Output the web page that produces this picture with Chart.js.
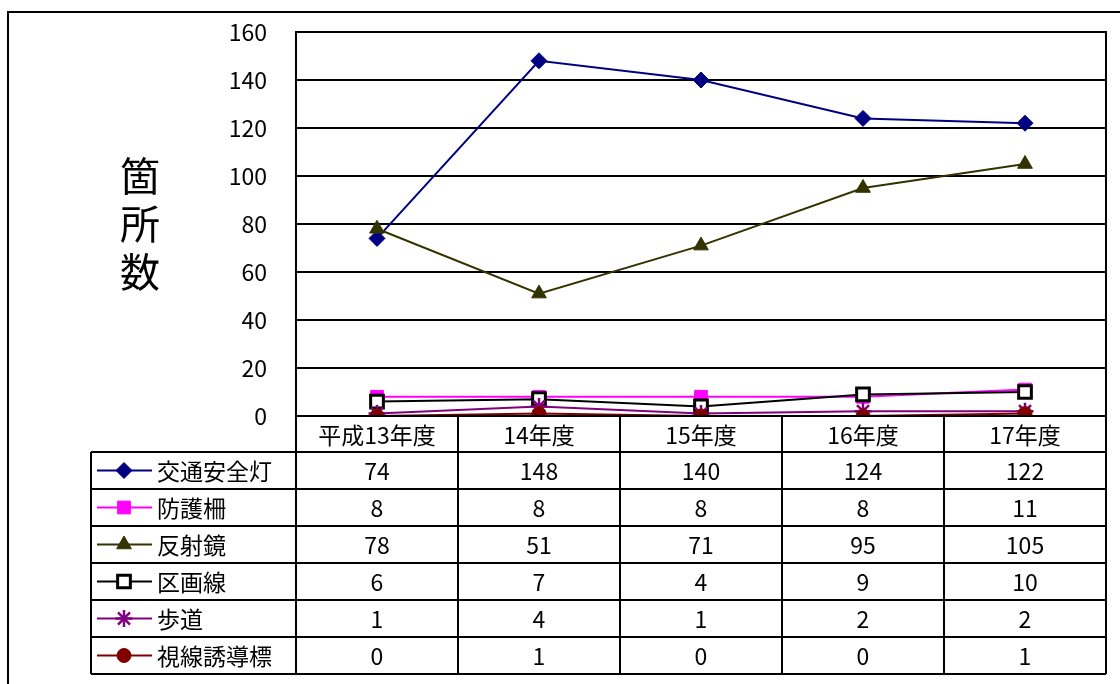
<!DOCTYPE html>
<html>
<head>
<meta charset="utf-8">
<script src="https://cdn.jsdelivr.net/npm/chart.js@4/dist/chart.umd.min.js"></script>
<style>
html,body{margin:0;padding:0;background:#fff;}
#wrap{width:1120px;height:684px;position:relative;}
</style>
</head>
<body>
<div id="wrap"><canvas id="c" width="1120" height="684"></canvas></div>
<script>
const categories = ['平成13年度', '14年度', '15年度', '16年度', '17年度'];
const yTicks = [0, 20, 40, 60, 80, 100, 120, 140, 160];
const axisTitle = '箇所数';
const seriesNames = ['交通安全灯', '防護柵', '反射鏡', '区画線', '歩道', '視線誘導標'];
const koutsuuAnzentou = [74, 148, 140, 124, 122];
const bougosaku = [8, 8, 8, 8, 11];
const hanshakyou = [78, 51, 71, 95, 105];
const kukakusen = [6, 7, 4, 9, 10];
const hodou = [1, 4, 1, 2, 2];
const shisenYuudouhyou = [0, 1, 0, 0, 1];

const seriesValues = [koutsuuAnzentou, bougosaku, hanshakyou, kukakusen, hodou, shisenYuudouhyou];
const styles = [
  {color:'#000080', fill:'#000080', pointStyle:'rectRot', r:8},
  {color:'#FF00FF', fill:'#FF00FF', pointStyle:'rect', r:9},
  {color:'#333300', fill:'#333300', pointStyle:'triangle', r:8.5},
  {color:'#000000', fill:'#FFFFFF', pointStyle:'rect', r:9},
  {color:'#800080', fill:'#800080', pointStyle:'star', r:8.5},
  {color:'#800000', fill:'#800000', pointStyle:'circle', r:7}
];

const FONT = '"Noto Sans CJK JP", "Liberation Sans", sans-serif';
const PLOT_TOP = 32, PLOT_BOTTOM = 416, PLOT_LEFT = 296, PLOT_RIGHT = 1106;
const HEADER_H = 36, ROW_H = 37, LEGEND_LEFT = 91;
const TXT = 23;

const datasets = seriesNames.map((name, i) => ({
  label: name,
  data: seriesValues[i],
  borderColor: styles[i].color,
  backgroundColor: styles[i].fill,
  pointBackgroundColor: styles[i].fill,
  pointBorderColor: styles[i].color,
  pointBorderWidth: styles[i].pointStyle === 'star' ? 2.5 : (i === 3 ? 3 : 1),
  pointStyle: styles[i].pointStyle,
  pointRadius: styles[i].r,
  borderWidth: 2,
  tension: 0,
  order: -i
}));

function drawMarker(ctx, i, x, y) {
  const st = styles[i];
  ctx.save();
  ctx.fillStyle = st.fill;
  ctx.strokeStyle = st.color;
  ctx.lineWidth = datasets[i].pointBorderWidth;
  Chart.helpers.drawPoint(ctx, {pointStyle: st.pointStyle, rotation: 0, radius: st.r, borderWidth: ctx.lineWidth}, x, y);
  ctx.restore();
}

const tablePlugin = {
  id: 'tablePlugin',
  afterDraw(chart) {
    const ctx = chart.ctx;
    const area = chart.chartArea;
    const xs = chart.scales.x;
    const n = categories.length;
    const colW = (area.right - area.left) / n;
    ctx.save();
    ctx.strokeStyle = '#000';
    ctx.lineWidth = 2;
    ctx.beginPath();
    ctx.moveTo(1121, 12); ctx.lineTo(8, 12); ctx.lineTo(8, 690);
    ctx.stroke();
    ctx.strokeRect(area.left, area.top, area.right - area.left, area.bottom - area.top);

    ctx.fillStyle = '#000';
    ctx.font = '40px ' + FONT;
    ctx.textAlign = 'center';
    ctx.textBaseline = 'middle';
    [...axisTitle].forEach((ch, k) => ctx.fillText(ch, 140, 176 + k * 48));

    const top = area.bottom;
    const rowsTop = top + HEADER_H;
    const bottom = rowsTop + ROW_H * seriesNames.length;
    ctx.lineWidth = 2;
    ctx.beginPath();
    for (let k = 0; k <= n; k++) {
      const x = area.left + k * colW;
      ctx.moveTo(x, top); ctx.lineTo(x, bottom);
    }
    ctx.moveTo(LEGEND_LEFT, rowsTop); ctx.lineTo(LEGEND_LEFT, bottom);
    for (let r = 0; r <= seriesNames.length; r++) {
      const y = rowsTop + r * ROW_H;
      ctx.moveTo(LEGEND_LEFT, y); ctx.lineTo(area.right, y);
    }
    ctx.stroke();

    ctx.font = TXT + 'px ' + FONT;
    ctx.fillStyle = '#000';
    ctx.textAlign = 'center';
    ctx.textBaseline = 'middle';
    categories.forEach((c, k) => ctx.fillText(c, xs.getPixelForValue(k), top + HEADER_H / 2 + 1));
    seriesNames.forEach((name, i) => {
      const yc = rowsTop + i * ROW_H + ROW_H / 2;
      ctx.fillStyle = '#000';
      ctx.textAlign = 'center';
      seriesValues[i].forEach((v, k) => ctx.fillText(String(v), xs.getPixelForValue(k), yc + 1));
      ctx.strokeStyle = styles[i].color;
      ctx.lineWidth = 2;
      ctx.beginPath(); ctx.moveTo(97, yc); ctx.lineTo(152, yc); ctx.stroke();
      drawMarker(ctx, i, 124, yc);
      ctx.fillStyle = '#000';
      ctx.textAlign = 'left';
      ctx.fillText(name, 157, yc + 1);
    });
    ctx.restore();
  }
};

new Chart(document.getElementById('c'), {
  type: 'line',
  data: { labels: categories, datasets },
  options: {
    responsive: false,
    animation: false,
    devicePixelRatio: 1,
    layout: { padding: { left: 0, right: 1120 - PLOT_RIGHT, top: PLOT_TOP, bottom: 684 - PLOT_BOTTOM } },
    plugins: { legend: { display: false }, tooltip: { enabled: false }, title: { display: false } },
    scales: {
      x: { display: false, offset: true, grid: { display: false } },
      y: {
        min: 0, max: 160,
        afterFit(scale) { scale.width = PLOT_LEFT; scale.paddingTop = 0; scale.paddingBottom = 0; },
        afterBuildTicks(scale) { scale.ticks = yTicks.map(v => ({ value: v })); },
        border: { display: false },
        grid: { color: '#000', lineWidth: 2, drawTicks: false },
        ticks: { color: '#000', padding: 29, font: { family: FONT, size: TXT } }
      }
    }
  },
  plugins: [tablePlugin]
});
</script>
</body>
</html>
